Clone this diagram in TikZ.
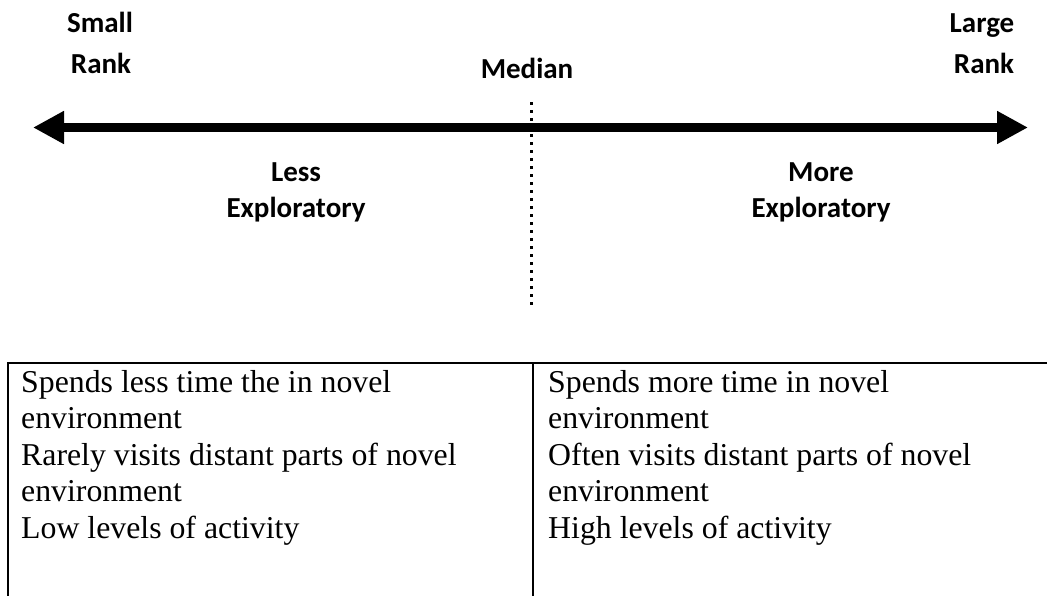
\documentclass[tikz,border=0pt]{standalone}
\usepackage{fontspec}
\setmainfont{Liberation Serif}
\newfontfamily\labelfont{Carlito}
\usetikzlibrary{arrows.meta}
\tikzset{
    rank label/.style={
        font=\labelfont\bfseries\fontsize{29}{34}\selectfont,
        anchor=base, inner sep=0pt
    },
    cell text/.style={
        font=\fontsize{31.8}{36.6}\selectfont,
        anchor=base west, inner sep=0pt
    },
    rank axis/.style={
        line width=9pt,
        {Triangle[length=31pt,width=31pt]}-{Triangle[length=31pt,width=31pt]}
    },
    median line/.style={line width=3pt, dash pattern=on 3pt off 5pt},
    table rule/.style={line width=2pt},
}

\begin{document}
\begin{tikzpicture}[x=1pt, y=-1pt]

    \useasboundingbox (0,0) rectangle (1047,595);

    \coordinate (axis left) at (33,127.5);
    \coordinate (axis right) at (1028,127.5);
    \coordinate (median top) at (531,102);
    \coordinate (median bottom) at (531,308);

    \coordinate (table nw) at (7.7,363);
    \coordinate (table ne) at (1052,363);
    \coordinate (table sw) at (7.7,600);
    \coordinate (table mid top) at (533.3,363);
    \coordinate (table mid bottom) at (533.3,600);

    \draw[rank axis] (axis left) -- (axis right);
    \draw[median line] (median top) -- (median bottom);

    \node[rank label] (small) at (100,32) {Small};
    \node[rank label] (small rank) at (101,73) {Rank};
    \node[rank label] (large) at (982,32) {Large};
    \node[rank label] (large rank) at (984,73) {Rank};
    \node[rank label] (median) at (527,78) {Median};

    \node[rank label] (less) at (296,181) {Less};
    \node[rank label] (less explo) at (296,217) {Exploratory};
    \node[rank label] (more) at (821,181) {More};
    \node[rank label] (more explo) at (821,217) {Exploratory};

    \draw[table rule] (table sw) -- (table nw) -- (table ne);
    \draw[table rule] (table mid top) -- (table mid bottom);

    \foreach \txt [count=\i] in {Spends less time the in novel, environment,
        Rarely visits distant parts of novel, environment, Low levels of activity}
        \node[cell text] (less cell \i) at (21,392+36.6*\i-36.6) {\txt};

    \foreach \txt [count=\i] in {Spends more time in novel, environment,
        Often visits distant parts of novel, environment, High levels of activity}
        \node[cell text] (more cell \i) at (548,392+36.6*\i-36.6) {\txt};

\end{tikzpicture}
\end{document}
